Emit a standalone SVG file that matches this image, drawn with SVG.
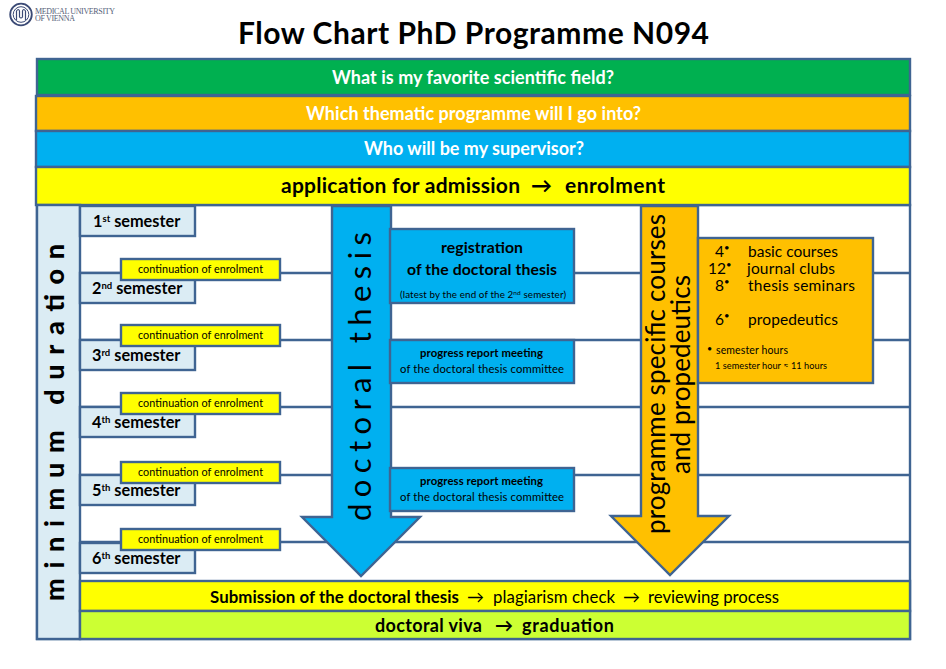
<svg xmlns="http://www.w3.org/2000/svg" width="946" height="669" viewBox="0 0 946 669">
<style>
text{font-family:"Lato","Open Sans","Liberation Sans",sans-serif;fill:#000}
.b{stroke:#3f6492;stroke-width:2.4}
.bar{font-size:18px;font-weight:700}
.w{fill:#fff}
.sem{fill:#dbecf4}
.semt{font-size:16.300px;font-weight:700}
.y{fill:#ff0}
.cont{font-size:10.800px}
.blue{fill:#00b0f0}
.or{fill:#ffc000}
.pr{font-size:11.300px}
.l{font-size:15.500px}
.sup{font-size:9.500px}
line{stroke:#3f6492;stroke-width:2.4}
</style>
<rect width="946" height="669" fill="#fff"/>
<g id="logo">
<circle cx="21" cy="14.500" r="10.800" fill="#fff" stroke="#3b4a75" stroke-width="1.800"/>
<circle cx="21" cy="14.500" r="7.800" fill="none" stroke="#3b4a75" stroke-width="1"/>
<path d="M16.500 20V11q2-3 3 0v6q1.500 2 3 0v-6q1-3 3 0v9" fill="none" stroke="#3b4a75" stroke-width="1.200"/>
<text x="35" y="13.500" style="font-family:'Liberation Serif',serif;font-size:8px;fill:#555e78" textLength="80">MEDICAL UNIVERSITY</text>
<text x="35" y="21" style="font-family:'Liberation Serif',serif;font-size:8px;fill:#555e78" textLength="40">OF VIENNA</text>
</g>
<text id="title" x="238" y="44" style="font-size:30px;font-weight:700" textLength="471">Flow Chart PhD Programme N094</text>
<g id="frame"><rect x="37" y="205" width="873" height="434" fill="#fff" class="b"/></g>
<g id="connectors">
<line x1="80" y1="273" x2="910" y2="273"/>
<line x1="80" y1="340" x2="910" y2="340"/>
<line x1="80" y1="407" x2="910" y2="407"/>
<line x1="80" y1="475" x2="910" y2="475"/>
<line x1="80" y1="542" x2="910" y2="542"/>
</g>
<g id="q1"><rect x="37" y="59" width="873" height="36" fill="#00b050" class="b"/><text class="bar w" x="332" y="84" textLength="282">What is my favorite scientific field?</text></g>
<g id="q2"><rect x="36" y="96" width="874" height="35" class="or b"/><text class="bar w" x="306" y="120" textLength="335">Which thematic programme will I go into?</text></g>
<g id="q3"><rect x="36" y="131" width="874" height="36" class="blue b"/><text class="bar w" x="364" y="155" textLength="220">Who will be my supervisor?</text></g>
<g id="q4"><rect x="36" y="167" width="874" height="38" class="y b"/><text x="281" y="193" style="font-size:21px;font-weight:700" textLength="239">application for admission</text><text x="531" y="193" style="font-size:21px;font-weight:700" textLength="22">→</text><text x="565" y="193" style="font-size:21px;font-weight:700" textLength="100">enrolment</text></g>
<g id="duration"><rect x="37" y="205" width="43" height="434" class="sem b"/><text transform="translate(64,601) rotate(-90)" style="font-size:27px;font-weight:900" textLength="357">minimum duration</text></g>
<g id="s1"><rect x="80" y="206" width="115" height="30" class="sem b"/><text class="semt" x="93" y="226.500">1<tspan class="sup" dy="-5">st</tspan><tspan dy="5"> semester</tspan></text></g>
<g id="s2"><rect x="80" y="273" width="115" height="30" class="sem b"/><text class="semt" x="92" y="293.500">2<tspan class="sup" dy="-5">nd</tspan><tspan dy="5"> semester</tspan></text></g>
<g id="s3"><rect x="80" y="340" width="115" height="30" class="sem b"/><text class="semt" x="92" y="360.500">3<tspan class="sup" dy="-5">rd</tspan><tspan dy="5"> semester</tspan></text></g>
<g id="s4"><rect x="80" y="407" width="115" height="30" class="sem b"/><text class="semt" x="92" y="427.500">4<tspan class="sup" dy="-5">th</tspan><tspan dy="5"> semester</tspan></text></g>
<g id="s5"><rect x="80" y="475" width="115" height="30" class="sem b"/><text class="semt" x="92" y="495.500">5<tspan class="sup" dy="-5">th</tspan><tspan dy="5"> semester</tspan></text></g>
<g id="s6"><rect x="80" y="543" width="115" height="30" class="sem b"/><text class="semt" x="92" y="563.500">6<tspan class="sup" dy="-5">th</tspan><tspan dy="5"> semester</tspan></text></g>
<g id="c2"><rect x="121" y="259" width="159" height="21" class="y b"/><text class="cont" x="138" y="273" textLength="125">continuation of enrolment</text></g>
<g id="c3"><rect x="121" y="325" width="159" height="21" class="y b"/><text class="cont" x="138" y="339" textLength="125">continuation of enrolment</text></g>
<g id="c4"><rect x="121" y="393" width="159" height="21" class="y b"/><text class="cont" x="138" y="407" textLength="125">continuation of enrolment</text></g>
<g id="c5"><rect x="121" y="462" width="159" height="21" class="y b"/><text class="cont" x="138" y="476" textLength="125">continuation of enrolment</text></g>
<g id="c6"><rect x="121" y="529" width="159" height="21" class="y b"/><text class="cont" x="138" y="543" textLength="125">continuation of enrolment</text></g>
<g id="arrow-thesis"><path d="M332 206H391V517H420L361 576L302 517H332Z" class="blue b"/><text transform="translate(371,521) rotate(-90)" style="font-size:31px" textLength="289">doctoral thesis</text></g>
<g id="arrow-courses"><path d="M641 206H698V516H729L670 575L611 516H641Z" class="or b"/><text transform="translate(665,534) rotate(-90)" style="font-size:26px" textLength="320">programme specific courses</text><text transform="translate(690,474) rotate(-90)" style="font-size:26px" textLength="199">and propedeutics</text></g>
<g id="reg"><rect x="390" y="229" width="184" height="74" class="blue b"/><text x="441" y="253" style="font-size:15.800px;font-weight:700" textLength="82">registration</text><text x="407" y="275" style="font-size:15.800px;font-weight:700" textLength="150">of the doctoral thesis</text><text x="400" y="298" style="font-size:9.800px" textLength="166">(latest by the end of the 2<tspan dy="-3" font-size="6.500">nd</tspan><tspan dy="3"> semester)</tspan></text></g>
<g id="pm1"><rect x="390" y="340" width="184" height="43" class="blue b"/><text class="pr" x="420" y="357" style="font-weight:700" textLength="123">progress report meeting</text><text class="pr" x="400" y="373" textLength="164">of the doctoral thesis committee</text></g>
<g id="pm2"><rect x="390" y="468" width="184" height="43" class="blue b"/><text class="pr" x="420" y="485" style="font-weight:700" textLength="123">progress report meeting</text><text class="pr" x="400" y="501" textLength="164">of the doctoral thesis committee</text></g>
<g id="hours"><rect x="698" y="238" width="175" height="145" class="or b"/>
<text class="l" x="715" y="257">4<tspan class="sup" dy="-6">•</tspan></text><text class="l" x="748" y="257" textLength="90">basic courses</text>
<text class="l" x="708" y="274">12<tspan class="sup" dy="-6">•</tspan></text><text class="l" x="747" y="274" textLength="88">journal clubs</text>
<text class="l" x="715" y="291">8<tspan class="sup" dy="-6">•</tspan></text><text class="l" x="748" y="291" textLength="107">thesis seminars</text>
<text class="l" x="715" y="325">6<tspan class="sup" dy="-6">•</tspan></text><text class="l" x="748" y="325" textLength="90">propedeutics</text>
<text x="707" y="352" style="font-size:9px">•</text><text x="716" y="354" style="font-size:10.500px" textLength="72">semester hours</text>
<text x="715" y="369" style="font-size:9.200px" textLength="112">1 semester hour ≈ 11 hours</text></g>
<g id="submission"><rect x="80" y="581" width="830" height="30" class="y b"/><text x="210" y="603" style="font-size:16.800px;font-weight:700" textLength="249">Submission of the doctoral thesis</text><text x="467" y="603" style="font-size:17px" textLength="17">→</text><text x="493" y="603" style="font-size:16.800px" textLength="122">plagiarism check</text><text x="623" y="603" style="font-size:17px" textLength="17">→</text><text x="648" y="603" style="font-size:16.800px" textLength="131">reviewing process</text></g>
<g id="viva"><rect x="80" y="611" width="830" height="28" fill="#ccff33" class="b"/><text x="375" y="632" style="font-size:18px;font-weight:700" textLength="107">doctoral viva</text><text x="495" y="632" style="font-size:18px;font-weight:700" textLength="15">→</text><text x="522" y="632" style="font-size:18px;font-weight:700" textLength="92">graduation</text></g>
</svg>
